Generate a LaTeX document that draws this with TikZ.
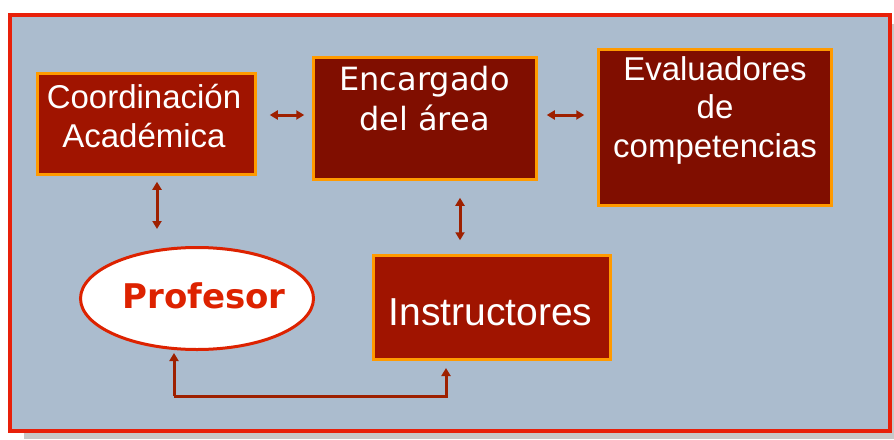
\documentclass[tikz,border=0pt]{standalone}
\usepackage{fontspec}
\setmainfont{Liberation Sans}
\newfontfamily\wideface{DejaVu Sans}
\usetikzlibrary{arrows.meta, shapes.geometric}
\definecolor{panelblue}{HTML}{ABBCCE}
\definecolor{framered}{HTML}{E8200A}
\definecolor{boxorange}{HTML}{FF9A00}
\definecolor{boxred}{HTML}{A01400}
\definecolor{boxdark}{HTML}{800E00}
\definecolor{arrowred}{HTML}{9E2000}
\definecolor{profred}{HTML}{DD2200}
\definecolor{shadowgray}{HTML}{C8C8C8}
\tikzset{
    x=1pt, y=-1pt, % pixel-like units, y grows downwards
    link/.style={{Triangle[length=8pt,width=9pt]}-{Triangle[length=8pt,width=9pt]}, line width=3pt, draw=arrowred}, % the connectors
    uplink/.style={-{Triangle[length=8pt,width=9pt]}, line width=3pt, draw=arrowred}, % one way connectors
    box/.style={draw=boxorange, line width=2.5pt, fill=boxred}, % light boxes
    darkbox/.style={box, fill=boxdark}, % dark boxes
    boxtext/.style={text=white, align=center, anchor=base, font=\fontsize{33}{39}\selectfont}, % white text, base = last line
}
\begin{document}
\begin{tikzpicture}
    \useasboundingbox (0,0) rectangle (894,439);
    % frame with its shadow
    \fill[shadowgray] (24,24) rectangle (894,439);
    \draw[framered, line width=4pt, fill=panelblue] (10,15) rectangle (890,431);

    \node[box, minimum width=218, minimum height=101] (coord) at (146.5,124) {};
    \node[darkbox, minimum width=223, minimum height=122] (enc) at (425,118.5) {};
    \node[darkbox, minimum width=233, minimum height=156] (eval) at (715,127.5) {};
    \node[box, minimum width=237, minimum height=104] (instr) at (492,307.5) {};
    \node[ellipse, draw=profred, line width=3pt, fill=white, minimum width=233, minimum height=102] (prof) at (197,298.5) {};

    \node[boxtext] (coordtxt) at (144,147) {Coordinación\\Académica};
    \node[boxtext, font=\wideface\fontsize{32}{40}\selectfont] (enctxt) at (424.5,130) {Encargado\\del área};
    \node[boxtext, font=\fontsize{33}{38.5}\selectfont] (evaltxt) at (715,157) {Evaluadores\\de\\competencias};
    \node[boxtext, font=\fontsize{39}{39}\selectfont] (instrtxt) at (490.5,325) {Instructores};
    \node[anchor=base, text=profred, font=\wideface\bfseries\fontsize{34}{34}\selectfont] (proftxt) at (204,308) {Profesor};

    \draw[link, shorten <=13pt, shorten >=8pt] (coord.east |- 0,115) -- (enc.west |- 0,115);
    \draw[link, shorten <=9pt, shorten >=13pt] (enc.east |- 0,115) -- (eval.west |- 0,115);
    \draw[link, shorten <=6pt, shorten >=17pt] (coord.south -| 157,0) -- (prof.north -| 157,0);
    \draw[link, shorten <=17pt, shorten >=14pt] (enc.south -| 460,0) -- (instr.north -| 460,0);

    \coordinate (turn) at (174,396);
    \draw[uplink] (turn) -- (174,353);
    \draw[uplink] (turn) -| (446,368);
\end{tikzpicture}
\end{document}
